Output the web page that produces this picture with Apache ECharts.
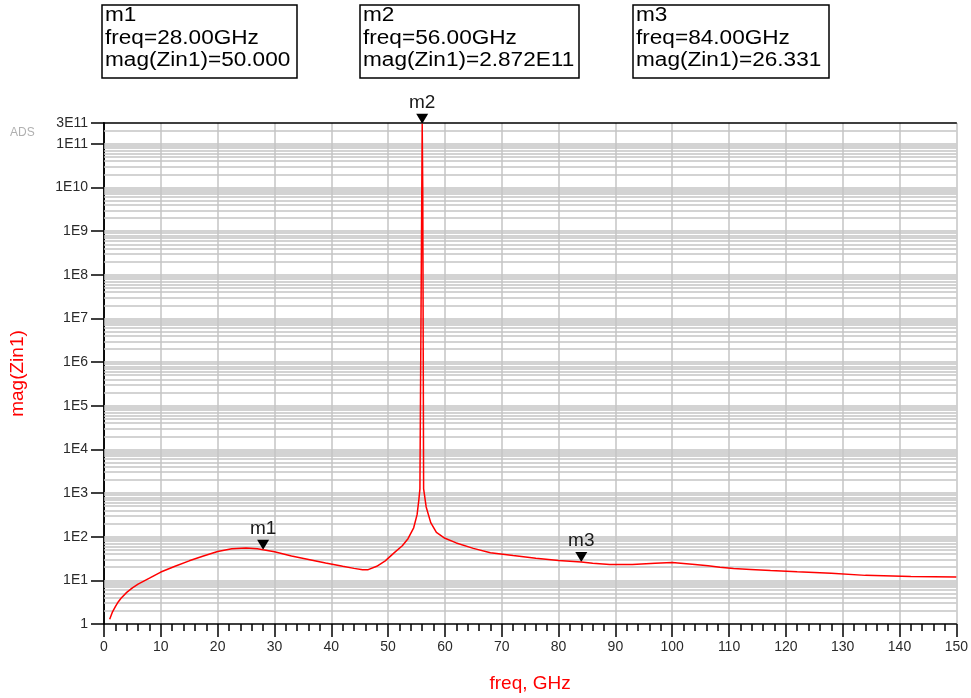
<!DOCTYPE html>
<html>
<head>
<meta charset="utf-8">
<script src="https://cdn.jsdelivr.net/npm/echarts@6/dist/echarts.min.js"></script>
<style>
  html, body { margin: 0; padding: 0; background: #ffffff; }
  #chart { width: 971px; height: 698px; }
</style>
</head>
<body>
<div id="chart"></div>
<script>
// Input impedance sweep: frequency (GHz) and |Zin1| (ohm)
const freqGHz = [
  1.0, 1.5, 2, 2.5, 3, 4, 5, 6, 7, 8, 9, 10, 12.5, 15, 17.5, 20, 22.5, 25, 27, 28,
  30, 33, 36, 39, 42, 44, 45.5, 46.5, 48, 49.5, 51, 52.5, 53.5, 54.5, 55.1, 55.4, 55.6,
  56.0, 56.1, 56.25, 56.7, 57.5, 58.5, 60, 62, 65, 68, 72, 76, 80, 84, 86, 89, 93, 97,
  100, 102, 104, 106.3, 108.4, 110.8, 113.8, 117.3, 122, 128, 134, 142, 150
];
const magZin1 = [
  1.28, 1.9, 2.5, 3.2, 3.9, 5.3, 6.7, 8.2, 9.6, 11.2, 13.2, 15.5, 21, 28, 36, 46, 53, 55, 53, 50.0,
  45, 36, 30, 25, 21, 18.8, 17.5, 17.6, 21, 28, 42, 62, 90, 160, 320, 680, 1250,
  2.872e11, 8e9, 1250, 480, 210, 125, 92, 72, 54, 43, 37, 32, 28.4, 26.331, 24.5, 23, 23.2, 24.5,
  25.5, 24.3, 23, 21.5, 20, 18.7, 17.8, 16.8, 15.7, 14.6, 13.0, 12.3, 11.9
];

// Markers placed on the trace
const markerNames = ['m1', 'm2', 'm3'];
const markerFreq = [28, 56, 84];
const markerMag = [50.0, 2.872e11, 26.331];
const markerFreqText = ['28.00GHz', '56.00GHz', '84.00GHz'];
const markerMagText = ['50.000', '2.872E11', '26.331'];

// Axis ranges and labelled y ticks
const xMin = 0, xMax = 150, xStep = 10;
const yMin = 1, yMax = 3e11;
const yTickValues = [1, 1e1, 1e2, 1e3, 1e4, 1e5, 1e6, 1e7, 1e8, 1e9, 1e10, 1e11, 3e11];
const yTickLabels = ['1', '1E1', '1E2', '1E3', '1E4', '1E5', '1E6', '1E7', '1E8', '1E9', '1E10', '1E11', '3E11'];

// Horizontal grid: each decade plus 2..9 x 10^n
const hGrid = [];
for (let n = 0; n <= 11; n++) {
  for (let k = 1; k <= 9; k++) {
    const v = k * Math.pow(10, n);
    if (v > yMin * 1.001 && v < yMax * 0.999) hGrid.push(v);
  }
}

const FONT = '"Liberation Sans", Arial, sans-serif';
const GRID_COLOR = '#c4c4c4';

function yLabel(v) {
  let best = 0;
  for (let i = 1; i < yTickValues.length; i++) {
    if (Math.abs(Math.log10(v) - Math.log10(yTickValues[i])) <
        Math.abs(Math.log10(v) - Math.log10(yTickValues[best]))) best = i;
  }
  return yTickLabels[best];
}

// Readout boxes above the plot
const boxes = [
  { x: 102, w: 195 },
  { x: 360, w: 219 },
  { x: 633, w: 196 }
];
const graphics = [];
boxes.forEach((b, i) => {
  graphics.push({
    type: 'rect',
    shape: { x: b.x, y: 5, width: b.w, height: 73 },
    style: { fill: '#ffffff', stroke: '#000000', lineWidth: 1.5 }
  });
  graphics.push({
    type: 'text',
    x: b.x + 3, y: 4,
    scaleX: 1.13,
    style: {
      text: markerNames[i] + '\nfreq=' + markerFreqText[i] + '\nmag(Zin1)=' + markerMagText[i],
      font: '20px ' + FONT,
      lineHeight: 22.7,
      fill: '#000000',
      verticalAlign: 'top',
      align: 'left'
    }
  });
});
graphics.push({
  type: 'text',
  x: 10, y: 127,
  style: { text: 'ADS', font: '12px ' + FONT, fill: '#b0b0b0' }
});

const chart = echarts.init(document.getElementById('chart'), null, { renderer: 'canvas' });

chart.setOption({
  animation: false,
  backgroundColor: '#ffffff',
  grid: { left: 102, right: 11, top: 123, bottom: 70 },
  graphic: graphics,
  xAxis: [{
    type: 'value',
    min: xMin, max: xMax, interval: xStep,
    name: 'freq, GHz',
    nameLocation: 'middle',
    nameGap: 50,
    nameTextStyle: { color: '#ff0000', fontSize: 19, fontFamily: FONT },
    axisLine: { show: true, lineStyle: { color: '#000000', width: 1.5 } },
    axisTick: { show: true, length: 13, lineStyle: { color: '#000000', width: 1.5 } },
    minorTick: { show: true, splitNumber: 5, length: 7, lineStyle: { color: '#000000', width: 1.5 } },
    axisLabel: { color: '#2a2a2a', fontSize: 14, fontFamily: FONT, margin: 16 },
    splitLine: { show: true, lineStyle: { color: GRID_COLOR, width: 1.5 } }
  }, {
    type: 'value',
    position: 'top',
    min: xMin, max: xMax, interval: xStep,
    axisLine: { show: true, lineStyle: { color: '#000000', width: 1.5 } },
    axisTick: { show: false },
    axisLabel: { show: false },
    splitLine: { show: false }
  }],
  yAxis: [{
    type: 'log',
    logBase: 10,
    min: yMin, max: yMax,
    name: 'mag(Zin1)',
    nameLocation: 'middle',
    nameGap: 77,
    nameTextStyle: { color: '#ff0000', fontSize: 19, fontFamily: FONT },
    axisLine: { show: true, lineStyle: { color: '#000000', width: 1.5 } },
    axisTick: { show: true, length: 13, customValues: yTickValues, lineStyle: { color: '#000000', width: 1.5 } },
    axisLabel: {
      color: '#2a2a2a', fontSize: 14, fontFamily: FONT, margin: 16,
      customValues: yTickValues, formatter: yLabel,
      showMinLabel: true, showMaxLabel: true, hideOverlap: false
    },
    splitLine: { show: false }
  }, {
    type: 'log',
    logBase: 10,
    position: 'right',
    min: yMin, max: yMax,
    axisLine: { show: true, lineStyle: { color: '#000000', width: 1.5 } },
    axisTick: { show: false },
    axisLabel: { show: false },
    splitLine: { show: false }
  }],
  series: [{
    name: 'grid',
    type: 'line',
    data: [],
    silent: true,
    z: 1,
    markLine: {
      silent: true,
      symbol: ['none', 'none'],
      animation: false,
      label: { show: false },
      lineStyle: { color: GRID_COLOR, type: 'solid', width: 1.5 },
      emphasis: { disabled: true },
      data: hGrid.map(v => ({ yAxis: v }))
    }
  }, {
    name: 'mag(Zin1)',
    type: 'line',
    z: 5,
    data: freqGHz.map((f, i) => [f, magZin1[i]]),
    showSymbol: false,
    smooth: false,
    lineStyle: { color: '#ff0000', width: 1.5 },
    markPoint: {
      symbol: 'triangle',
      symbolRotate: 180,
      symbolSize: [12, 10],
      symbolOffset: [0, -5],
      itemStyle: { color: '#000000' },
      label: {
        show: true,
        position: 'top',
        distance: 2,
        color: '#1a1a1a',
        fontSize: 19,
        fontFamily: FONT
      },
      data: markerNames.map((n, i) => ({
        name: n,
        coord: [markerFreq[i], markerMag[i]],
        label: { formatter: n }
      }))
    }
  }]
});
</script>
</body>
</html>
